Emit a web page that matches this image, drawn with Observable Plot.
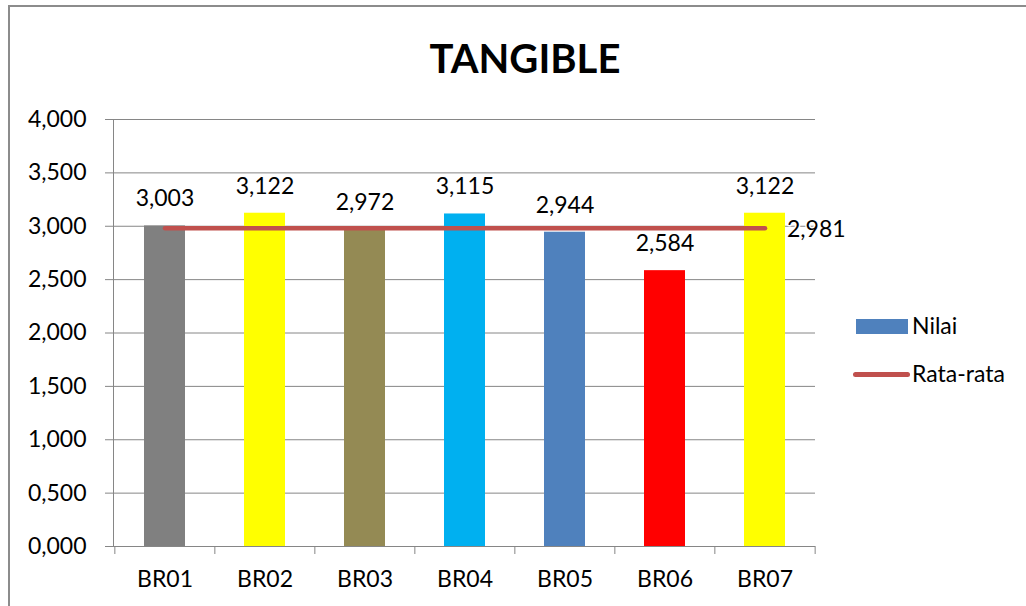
<!DOCTYPE html>
<html><head><meta charset="utf-8">
<script src="https://cdn.jsdelivr.net/npm/d3@7"></script>
<script src="https://cdn.jsdelivr.net/npm/@observablehq/plot@0.6"></script>
<style>
body{margin:0;background:#fff;font-family:Lato,"Open Sans",sans-serif;color:#000}
#wrap{position:relative;width:1026px;height:606px;overflow:hidden;background:#fff}
#border{position:absolute;left:8px;top:5px;width:1040px;height:620px;border:2px solid #8c8c8c;box-sizing:border-box}
#title{position:absolute;left:12px;top:0;width:1026px;height:100px;text-align:center;font-weight:700;font-size:40px;line-height:40px;padding-top:38px;box-sizing:border-box}
#chart{position:absolute;left:0;top:100px}
.lg{position:absolute;font-size:23px;line-height:23px}
</style></head>
<body>
<div id="wrap">
  <div id="border"></div>
  <div id="title">TANGIBLE</div>
  <div id="chart"></div>
  <div class="lg" style="left:856px;top:319px;width:52px;height:15px;background:#4F81BD"></div>
  <div class="lg" style="left:912px;top:314px">Nilai</div>
  <div class="lg" style="left:853px;top:372px;width:57px;height:5px;border-radius:3px;background:#C0504D"></div>
  <div class="lg" style="left:912px;top:362px">Rata-rata</div>
</div>
<script>
const categories = ["BR01","BR02","BR03","BR04","BR05","BR06","BR07"];
const values = [3.003, 3.122, 2.972, 3.115, 2.944, 2.584, 3.122];
const average = 2.981;
const yTicks = [0, 0.5, 1, 1.5, 2, 2.5, 3, 3.5, 4];
const barColors = ["#808080","#FFFF00","#948A54","#00B0F0","#4F81BD","#FF0000","#FFFF00"];

const fmt = v => d3.format(".3f")(v).replace(".", ",");
const data = categories.map((c, i) => ({cat: c, value: values[i]}));

const W = 1026, H = 506, ML = 113, MR = 211, MT = 19, MB = 60;
const step = (W - ML - MR) / categories.length;
const grid = "#868686";
const FS = 23;

const chart = Plot.plot({
  width: W, height: H,
  marginLeft: ML, marginRight: MR, marginTop: MT, marginBottom: MB,
  style: {fontFamily: "Lato, 'Open Sans', sans-serif", fontSize: FS + "px", color: "#000", background: "transparent", overflow: "visible"},
  x: {domain: categories, paddingInner: 0.59, paddingOuter: 0.295, label: null},
  y: {domain: [0, 4], label: null},
  marks: [
    Plot.gridY(yTicks, {stroke: grid, strokeOpacity: 1}),
    Plot.axisY(yTicks, {tickSize: 8, tickPadding: 19, tickFormat: fmt, stroke: grid, fill: "#000", fontSize: FS, label: null}),
    Plot.frame({anchor: "left", stroke: grid}),
    Plot.barY(data, {x: "cat", y: "value", fill: (d, i) => barColors[i]}),
    Plot.ruleY([0], {stroke: grid}),
    Plot.axisX({tickSize: 0, tickPadding: 24, fontSize: FS, fill: "#000", label: null}),
    Plot.axisX(categories, {text: null, tickSize: 8, dx: -step / 2, stroke: grid, label: null}),
    Plot.axisX([categories[categories.length - 1]], {text: null, tickSize: 8, dx: step / 2, stroke: grid, label: null}),
    Plot.text(data, {x: "cat", y: "value", text: d => fmt(d.value), dy: -27, fontSize: FS, fill: "#000"}),
    Plot.lineY(categories, {x: d => d, y: () => average, stroke: "#C0504D", strokeWidth: 4.5, strokeLinecap: "round"}),
    Plot.text([average], {x: () => categories[categories.length - 1], y: d => d, text: d => fmt(d), textAnchor: "start", dx: 22, dy: 1, fontSize: FS, fill: "#000", stroke: "white", strokeWidth: 3})
  ]
});
document.getElementById("chart").appendChild(chart);
</script>
</body></html>
